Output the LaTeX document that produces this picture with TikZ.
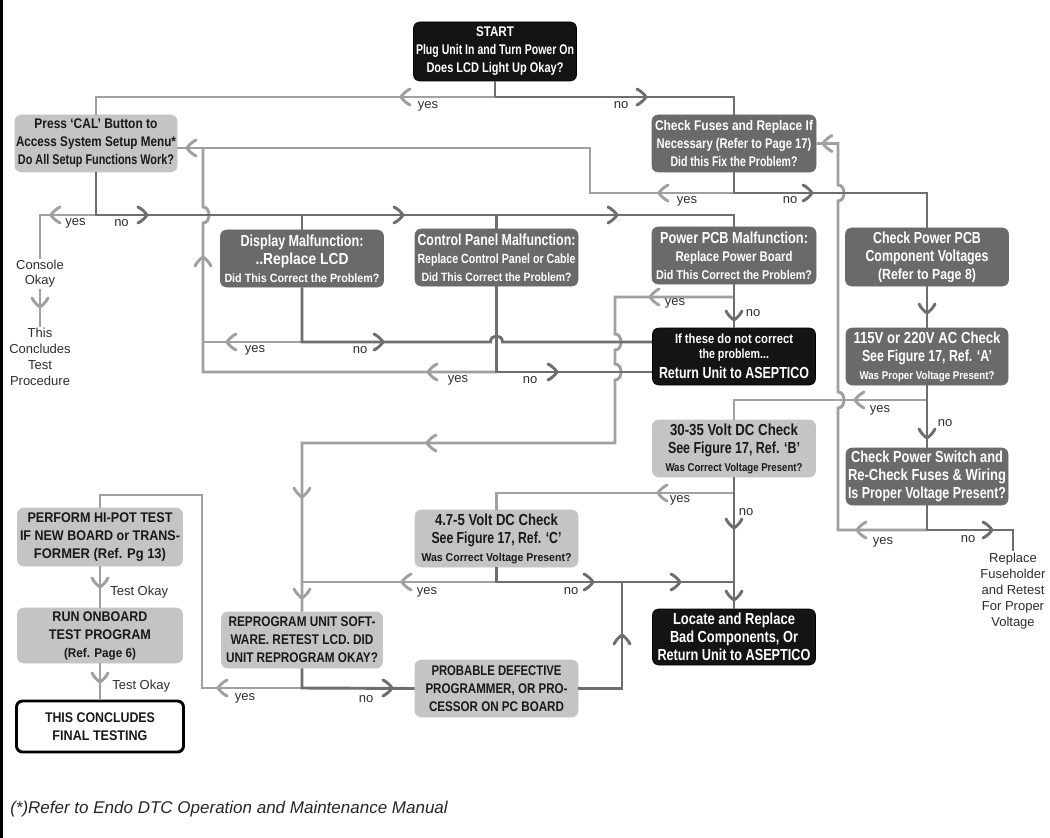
\documentclass[tikz,border=0pt]{standalone}
\usepackage{fontspec}
\setmainfont{Liberation Sans}
\usepackage{graphicx}
\newdimen\pxu \pxu=0.75pt
\newcommand\fitl[3]{\resizebox{#1\pxu}{\height}{\fontsize{#2}{#2}\selectfont\bfseries #3}}
\definecolor{yesc}{RGB}{160,160,160}
\definecolor{noc}{RGB}{110,110,110}
\definecolor{darkc}{RGB}{106,106,106}
\definecolor{lightc}{RGB}{196,196,196}
\definecolor{labc}{RGB}{45,45,45}
\tikzset{
 yesl/.style={draw=yesc, line width=2.2pt},
 nol/.style={draw=noc, line width=2.2pt},
 base/.style={inner sep=0pt, align=center, rounded corners=4.5pt, font=\fontsize{10}{13.5}\selectfont},
 darkb/.style={base, fill=darkc, draw=darkc, text=white},
 blackb/.style={base, fill=black!92, draw=black, text=white},
 lightb/.style={base, fill=lightc, draw=lightc, text=black!90},
 whiteb/.style={base, fill=white, draw=black, line width=2.2pt, text=black!90},
 sz/.style 2 args={minimum width=#1*0.75pt, minimum height=#2*0.75pt},
 lab/.style={font=\fontsize{9.75}{11}\selectfont, text=labc, inner sep=0pt},
 txt/.style={font=\fontsize{9.75}{12}\selectfont, text=labc, align=center, inner sep=1pt},
 chL/.pic={\draw[#1,line width=2.2pt,line cap=round] (9,-8) .. controls (5,-6) and (1.5,-2.5) .. (0,0) .. controls (1.5,2.5) and (5,6) .. (9,8);},
 chR/.pic={\draw[#1,line width=2.2pt,line cap=round] (-9,-8) .. controls (-5,-6) and (-1.5,-2.5) .. (0,0) .. controls (-1.5,2.5) and (-5,6) .. (-9,8);},
 chD/.pic={\draw[#1,line width=2.2pt,line cap=round] (-8,-9) .. controls (-6,-5) and (-2.5,-1.5) .. (0,0) .. controls (2.5,-1.5) and (6,-5) .. (8,-9);},
 chU/.pic={\draw[#1,line width=2.2pt,line cap=round] (-8,9) .. controls (-6,5) and (-2.5,1.5) .. (0,0) .. controls (2.5,1.5) and (6,5) .. (8,9);},
}
\begin{document}
\begin{tikzpicture}[x=0.75pt,y=-0.75pt]
\useasboundingbox (0,0) rectangle (1050,838);
\fill[white] (0,0) rectangle (1050,838);
\draw[line width=2.25pt] (1.5,0) -- (1.5,838);

% ---------- boxes ----------
\node[blackb, sz={163}{59}] (start) at (495,51.5) {\fitl{38}{10.5}{START}\\\fitl{158}{10.5}{Plug Unit In and Turn Power On}\\\fitl{137}{10.5}{Does LCD Light Up Okay?}};
\node[lightb, sz={162}{57}] (cal) at (96,143.5) {\fitl{123}{10.5}{Press `CAL' Button to}\\\fitl{160}{10.5}{Access System Setup Menu*}\\\fitl{156}{10.5}{Do All Setup Functions Work?}};
\node[darkb, sz={164}{57}] (fuses) at (734,143.5) {\fitl{158}{10.5}{Check Fuses and Replace If}\\\fitl{155}{10.5}{Necessary (Refer to Page 17)}\\\fitl{127}{10.5}{Did this Fix the Problem?}};
\node[darkb, sz={163}{57}] (display) at (302,258.5) {\fitl{123}{12}{Display Malfunction:}\\\fitl{93}{12}{..Replace LCD}\\\fitl{155}{9}{Did This Correct the Problem?}};
\node[darkb, sz={163}{57}] (control) at (496.5,257.5) {\fitl{158}{12}{Control Panel Malfunction:}\\\fitl{158}{10}{Replace Control Panel or Cable}\\\fitl{150}{9}{Did This Correct the Problem?}};
\node[darkb, sz={164}{57}] (ppcb) at (734,255.5) {\fitl{148}{12}{Power PCB Malfunction:}\\\fitl{117}{10.5}{Replace Power Board}\\\fitl{156}{9.5}{Did This Correct the Problem?}};
\node[darkb, sz={163}{58}] (cpcb) at (927,257) {\fitl{108}{12}{Check Power PCB}\\\fitl{123}{12}{Component Voltages}\\\fitl{98}{11}{(Refer to Page 8)}};
\node[blackb, sz={163}{57}] (ret) at (734,356.5) {\fitl{118}{10}{If these do not correct}\\[-2.25pt]\fitl{70}{10}{the problem...}\\[1.5pt]\fitl{150}{12}{Return Unit to ASEPTICO}};
\node[darkb, sz={162}{57}] (v115) at (927,356.5) {\fitl{147}{12}{115V or 220V AC Check}\\\fitl{130}{12}{See Figure 17, Ref. `A'}\\\fitl{135}{8.5}{Was Proper Voltage Present?}};
\node[lightb, sz={163}{57}] (v30) at (734,448.5) {\fitl{128}{12}{30-35 Volt DC Check}\\\fitl{132}{12}{See Figure 17, Ref. `B'}\\\fitl{137}{8.5}{Was Correct Voltage Present?}};
\node[darkb, sz={162}{57}] (psw) at (927,476.5) {\fitl{152}{12}{Check Power Switch and}\\\fitl{158}{12}{Re-Check Fuses \& Wiring}\\\fitl{158}{12}{Is Proper Voltage Present?}};
\node[lightb, sz={163}{57}] (v47) at (496.5,538.5) {\fitl{123}{12}{4.7-5 Volt DC Check}\\\fitl{130}{12}{See Figure 17, Ref. `C'}\\\fitl{150}{8.5}{Was Correct Voltage Present?}};
\node[blackb, sz={163}{56}] (locate) at (734,637) {\fitl{122}{12}{Locate and Replace}\\\fitl{128}{12}{Bad Components, Or}\\\fitl{153}{12}{Return Unit to ASEPTICO}};
\node[lightb, sz={161}{56}] (reprog) at (302,640) {\fitl{147}{10.5}{REPROGRAM UNIT SOFT-}\\\fitl{143}{10.5}{WARE. RETEST LCD. DID}\\\fitl{152}{10.5}{UNIT REPROGRAM OKAY?}};
\node[lightb, sz={163}{57}] (prob) at (496.5,688.5) {\fitl{130}{10.5}{PROBABLE DEFECTIVE}\\\fitl{142}{10.5}{PROGRAMMER, OR PRO-}\\\fitl{135}{10.5}{CESSOR ON PC BOARD}};
\node[lightb, sz={165}{58}] (hipot) at (100,537) {\fitl{145}{10.5}{PERFORM HI-POT TEST}\\\fitl{160}{10.5}{IF NEW BOARD or TRANS-}\\\fitl{132}{10.5}{FORMER (Ref. Pg 13)}};
\node[lightb, sz={165}{55}] (run) at (100,635.5) {\fitl{95}{10.5}{RUN ONBOARD}\\\fitl{102}{10.5}{TEST PROGRAM}\\\fitl{72}{9.5}{(Ref. Page 6)}};
\node[whiteb, sz={167}{51}] (concl) at (100,726.5) {\fitl{110}{10.5}{THIS CONCLUDES}\\\fitl{95}{10.5}{FINAL TESTING}};

\node[txt, font=\fontsize{9.75}{11.25}\selectfont] (console) at (40,274) {Console\\Okay};
\node[txt] (thisc) at (40,357) {This\\Concludes\\Test\\Procedure};
\node[txt] (repl) at (1013,591) {Replace\\Fuseholder\\and Retest\\For Proper\\Voltage};
\node[anchor=base west, inner sep=0pt, font=\fontsize{12.75}{15}\selectfont\itshape, text=black!85] (foot) at (10,813) {(*)Refer to Endo DTC Operation and Maintenance Manual};

% ---------- branch points ----------
\coordinate (s1) at (495,97);
\coordinate (c1) at (96,215);
\coordinate (f1) at (734,193);
\coordinate (d1) at (302,342);
\coordinate (k1) at (496.5,372);
\coordinate (p1) at (734,297);
\coordinate (v1) at (927,400);
\coordinate (w1) at (927,530);
\coordinate (t1) at (734,493);
\coordinate (q1) at (496.5,582);
\coordinate (r1) at (302,688);

% ---------- yes connectors ----------
\draw[yesl] (s1) -| (cal.north);
\draw[yesl] (c1) -- (40,215) -- (console.north);
\draw[yesl] (console.south) -- (thisc.north);
\draw[yesl] (f1) -- (590,193) -- (590,148) -- (cal.east |- 0,148);
\draw[yesl] (d1) -- (203,342);
\draw[yesl] (k1) -- (203,372) -- (203,223) .. controls (211,223) and (211,207) .. (203,207) -- (203,148);
\draw[yesl] (p1) -- (615,297) -- (615,334) .. controls (623,334) and (623,350) .. (615,350) -- (615,364) .. controls (623,364) and (623,380) .. (615,380) -- (615,443) -- (302,443) -- (reprog.north);
\draw[yesl] (v1) -- (734,400) -- (v30.north);
\draw[yesl] (w1) -- (838,530) -- (838,408) .. controls (846,408) and (846,392) .. (838,392) -- (838,201) .. controls (846,201) and (846,185) .. (838,185) -- (838,143.5) -- (fuses.east);
\draw[yesl] (t1) -- (496.5,493) -- (v47.north);
\draw[yesl] (q1) -- (302,582);
\draw[yesl] (r1) -- (202,688) -- (202,495) -- (100,495) -- (hipot.north);
\draw[yesl] (hipot.south) -- (run.north);
\draw[yesl] (run.south) -- (concl.north);

% ---------- no connectors ----------
\draw[nol] (start.south) -- (s1);
\draw[nol] (s1) -| (fuses.north);
\draw[nol] (cal.south) -- (c1) -- (734,215) -- (ppcb.north);
\draw[nol] (302,215) -- (display.north);
\draw[nol] (496.5,215) -- (control.north);
\draw[nol] (fuses.south) -- (f1) -| (cpcb.north);
\draw[nol] (display.south) -- (d1) -- (490.5,342) .. controls (490.5,334) and (502.5,334) .. (502.5,342) -- (ret.west |- 0,342);
\draw[nol] (control.south) -- (k1) -- (ret.west |- 0,372);
\draw[nol] (ppcb.south) -- (p1) -- (ret.north);
\draw[nol] (cpcb.south) -- (v115.north);
\draw[nol] (v115.south) -- (v1) -- (psw.north);
\draw[nol] (psw.south) -- (w1) -| (repl.north);
\draw[nol] (v30.south) -- (t1) -- (locate.north);
\draw[nol] (v47.south) -- (q1) -- (734,582);
\draw[nol] (reprog.south) -- (r1) -- (prob.west);
\draw[nol] (prob.east) -- (622,688.5) -- (622,582);

% ---------- chevrons ----------
\foreach \p in {(401,97),(187,148),(51,215),(659,193),(823,143.5),(227,342),(428,372),(650,297),(427,443),(855,400),(857,530),(658,493),(402,582),(218,688)}
  \pic at \p {chL=yesc};
\pic at (203,257) {chU=yesc};
\foreach \p in {(302,497),(302,598),(100,587),(100,682),(40,307)}
  \pic at \p {chD=yesc};
\foreach \p in {(646,97),(147,215),(403,215),(617,215),(812,193),(383,342),(557,372),(992,530),(593,582),(680,582),(392,688)}
  \pic at \p {chR=noc};
\foreach \p in {(734,320),(927,313),(927,438),(734,528),(734,600)}
  \pic at \p {chD=noc};
\pic at (622,635) {chU=noc};

% ---------- labels ----------
\node[lab] (ly1) at (428,106) {yes};
\node[lab] (ln1) at (621,105) {no};
\node[lab] (ly2) at (75.5,223) {yes};
\node[lab] (ln2) at (121.5,223) {no};
\node[lab] (ly3) at (687,201) {yes};
\node[lab] (ln3) at (790,200) {no};
\node[lab] (ly4) at (255,350) {yes};
\node[lab] (ln4) at (360,350) {no};
\node[lab] (ly5) at (458,380) {yes};
\node[lab] (ln5) at (530,380) {no};
\node[lab] (ly6) at (675,303) {yes};
\node[lab] (ln6) at (753,313) {no};
\node[lab] (ly7) at (880,410) {yes};
\node[lab] (ln7) at (945,423) {no};
\node[lab] (ly8) at (883,542) {yes};
\node[lab] (ln8) at (968,539) {no};
\node[lab] (ly9) at (680,500) {yes};
\node[lab] (ln9) at (746,512) {no};
\node[lab] (ly10) at (427,592) {yes};
\node[lab] (ln10) at (571,591) {no};
\node[lab] (ly11) at (245,698) {yes};
\node[lab] (ln11) at (366,699) {no};
\node[lab, anchor=west] (to1) at (110,592) {Test Okay};
\node[lab, anchor=west] (to2) at (112,686) {Test Okay};
\end{tikzpicture}
\end{document}
